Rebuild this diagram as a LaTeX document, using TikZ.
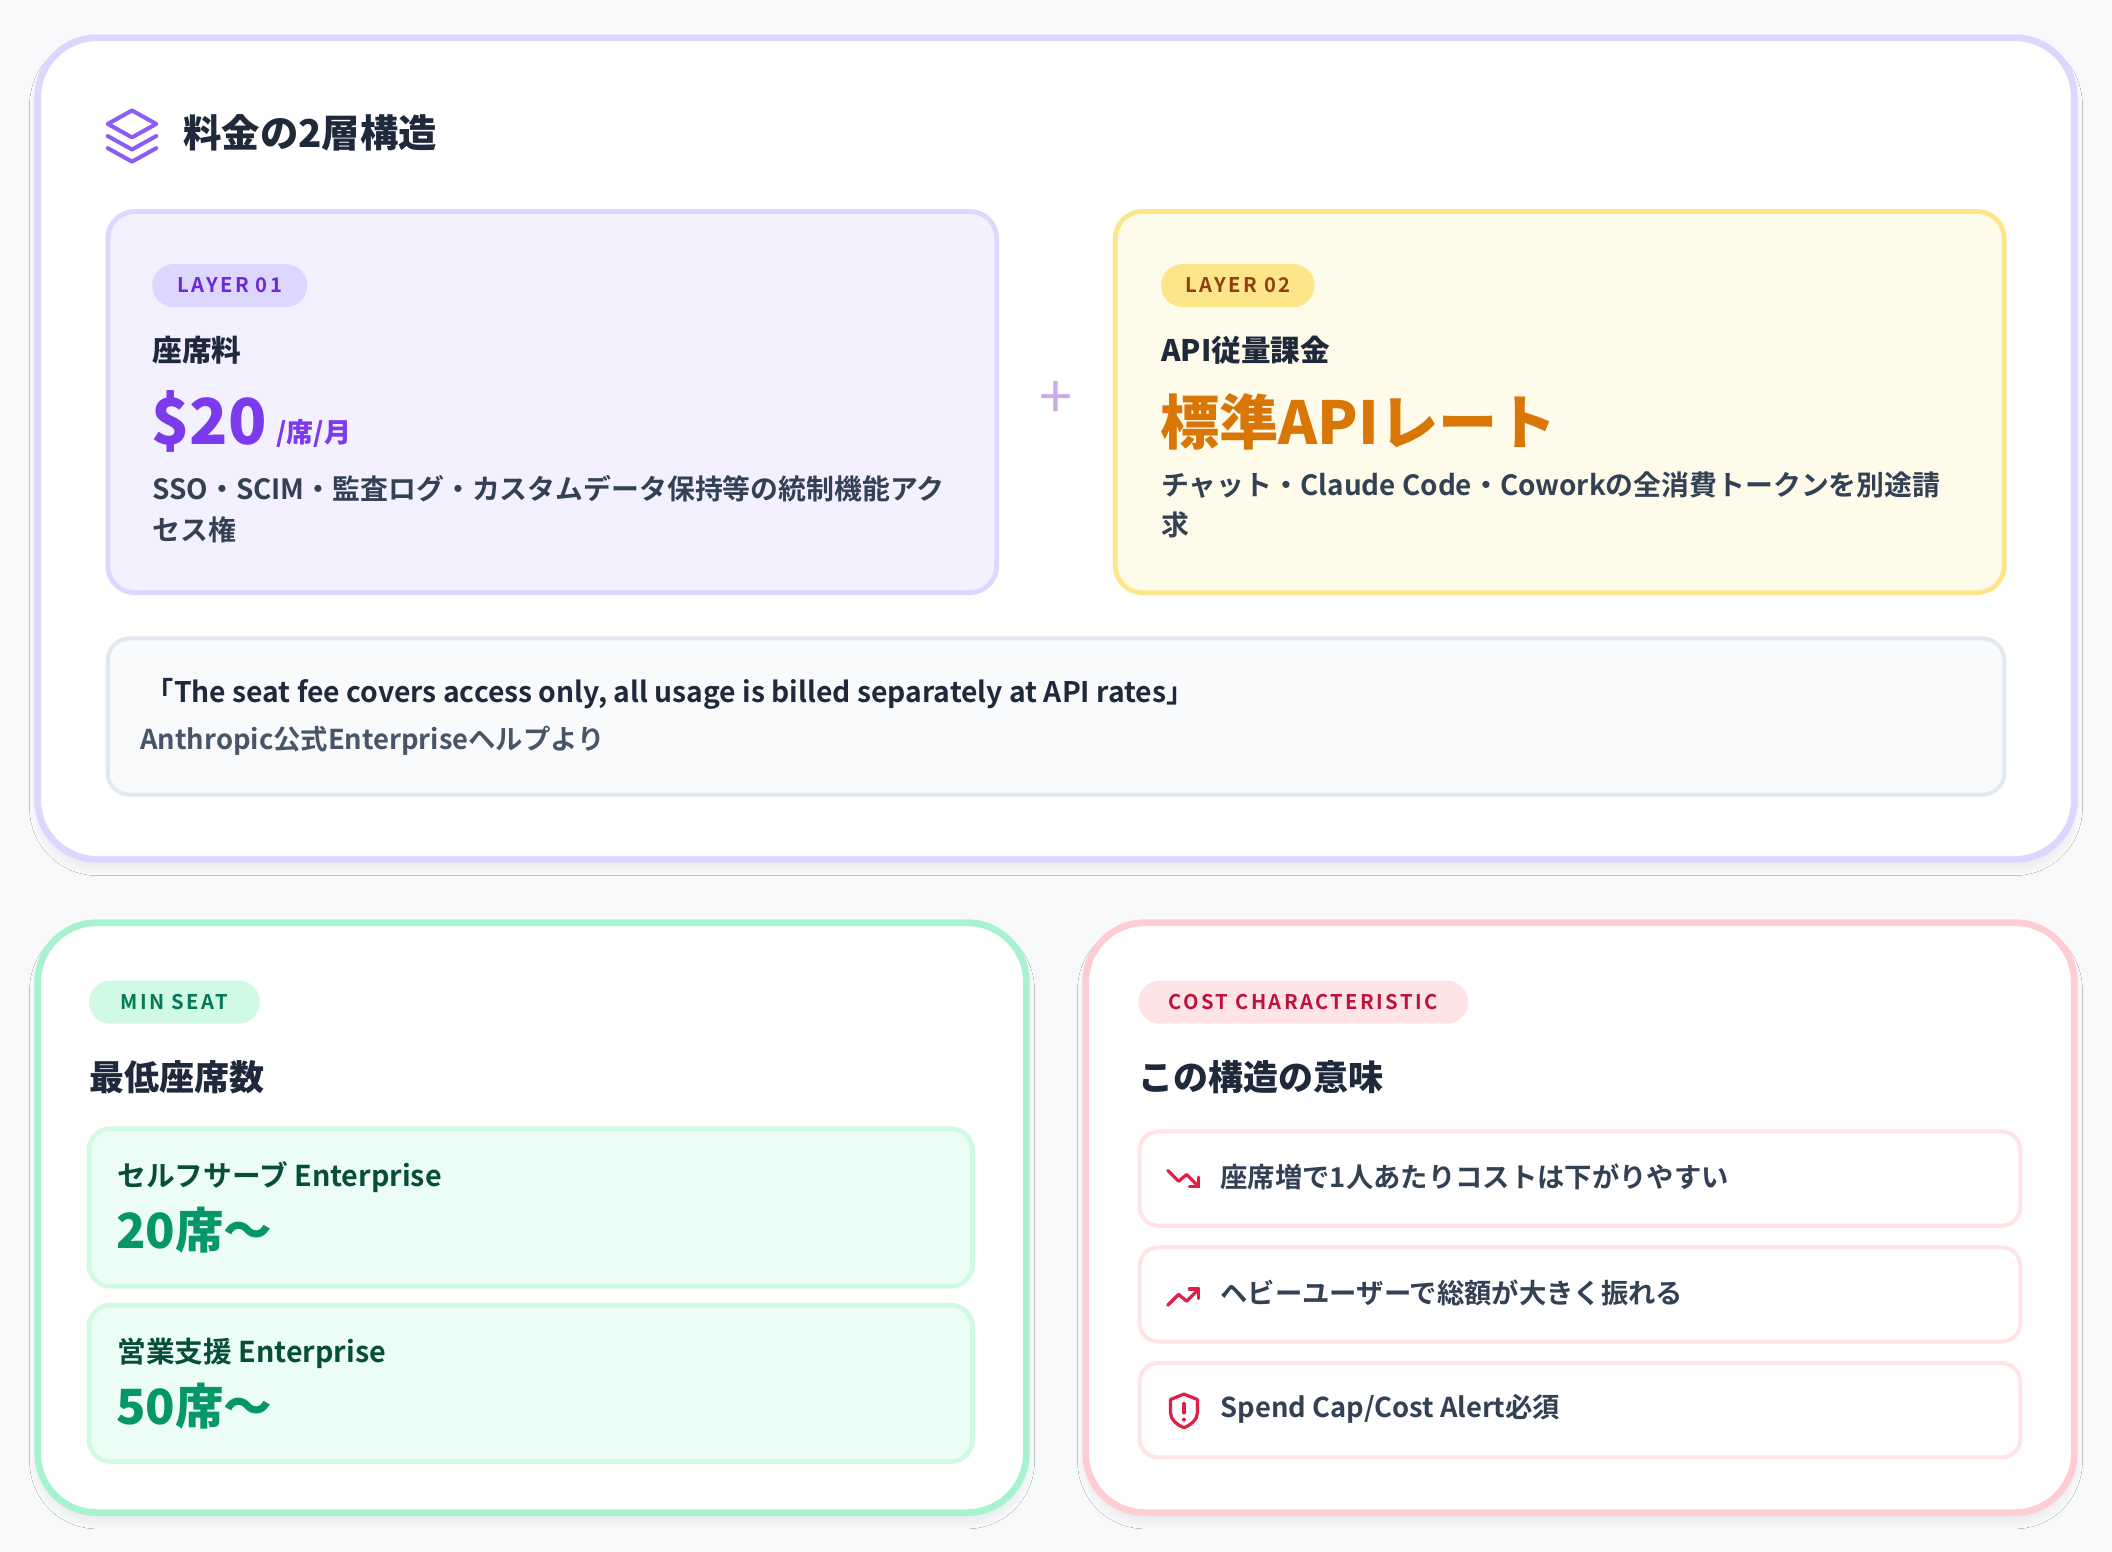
\documentclass[tikz,border=0pt]{standalone}
\usepackage{fontspec}
\setmainfont{Noto Sans CJK JP}[BoldFont={* Bold}]
\newfontfamily\heavy{Noto Sans CJK JP}[UprightFont={* Black}]
\usetikzlibrary{shadows.blur}
\definecolor{bg}{HTML}{F8F9FB}
\definecolor{lav}{HTML}{DDD6FE}
\definecolor{lavf}{HTML}{F3F0FF}
\definecolor{yel}{HTML}{FDE68A}
\definecolor{yelf}{HTML}{FEFBEA}
\definecolor{slb}{HTML}{E2E8F0}
\definecolor{slf}{HTML}{F8FAFC}
\definecolor{grn}{HTML}{A7F3D0}
\definecolor{grnf}{HTML}{ECFDF5}
\definecolor{grnb}{HTML}{D1FAE5}
\definecolor{pnk}{HTML}{FECDD3}
\definecolor{pnkb}{HTML}{FFE4E6}
\definecolor{ink}{HTML}{1E293B}
\definecolor{body}{HTML}{334155}
\definecolor{rose}{HTML}{E11D48}
\tikzset{x=1pt,y=-1pt,
 card/.style={rounded corners=44pt,line width=5pt,fill=white,blur shadow={shadow blur steps=10,shadow blur radius=6pt,shadow xshift=0pt,shadow yshift=-6pt,shadow opacity=7}},
 inbox/.style={rounded corners=20pt,line width=3.5pt},
 row/.style={rounded corners=14pt,line width=3pt,draw=pnkb,fill=white},
 pill/.style={rounded corners=16pt},
 lbl/.style={anchor=west,inner sep=0pt,font=\bfseries},
 badge/.style={anchor=center,inner sep=0pt,font=\bfseries\fontsize{15}{15}\selectfont\addfontfeatures{LetterSpace=12}},
}
\begin{document}
\begin{tikzpicture}
\fill[bg] (0,0) rectangle (1568,1152);
\useasboundingbox (0,0) rectangle (1568,1152);
% main card
\draw[card,draw=lav] (28,28) rectangle (1540,638);
\begin{scope}[line width=3pt,line cap=round,line join=round,draw={rgb,255:red,139;green,92;blue,246}]
\draw (98,82) -- (116,92) -- (98,102) -- (80,92) -- cycle;
\draw (80,101) -- (98,111) -- (116,101);
\draw (80,110) -- (98,120) -- (116,110);
\end{scope}
\node[lbl,text=ink,font=\heavy\fontsize{28.5}{28.5}\selectfont] (title) at (136,99) {料金の2層構造};
% layer 1
\draw[inbox,draw=lav,fill=lavf] (80,157) rectangle (740,440);
\fill[lav,pill] (113,196) rectangle (228,228);
\node[badge,text={rgb,255:red,109;green,40;blue,217}] (b1) at (170.5,212) {LAYER 01};
\node[lbl,text=ink,font=\heavy\fontsize{22}{22}\selectfont] (t1) at (113,260) {座席料};
\node[lbl,text={rgb,255:red,124;green,58;blue,237},font=\heavy\fontsize{47}{47}\selectfont] (p1) at (112,313) {\$20};
\node[lbl,text={rgb,255:red,124;green,58;blue,237},font=\heavy\fontsize{20}{20}\selectfont] (u1) at (205,322) {/席/月};
\node[lbl,text=body,font=\bfseries\fontsize{20.7}{20.7}\selectfont] (d1a) at (113,363) {SSO・SCIM・監査ログ・カスタムデータ保持等の統制機能アク};
\node[lbl,text=body,font=\bfseries\fontsize{20.7}{20.7}\selectfont] (d1b) at (113,393) {セス権};
% plus
\node[text=lav!80!violet,font=\fontsize{44}{44}\selectfont,inner sep=0pt] (plus) at (784,297) {+};
% layer 2
\draw[inbox,draw=yel,fill=yelf] (828,157) rectangle (1488,440);
\fill[yel,pill] (862,196) rectangle (976,228);
\node[badge,text={rgb,255:red,146;green,64;blue,14}] (b2) at (919,212) {LAYER 02};
\node[lbl,text=ink,font=\heavy\fontsize{22}{22}\selectfont] (t2) at (862,260) {API従量課金};
\node[lbl,text={rgb,255:red,217;green,119;blue,6},font=\heavy\fontsize{44}{44}\selectfont] (p2) at (861,313) {標準APIレート};
\node[lbl,text=body,font=\bfseries\fontsize{20.7}{20.7}\selectfont] (d2a) at (862,360) {チャット・Claude Code・Coworkの全消費トークンを別途請};
\node[lbl,text=body,font=\bfseries\fontsize{20.7}{20.7}\selectfont] (d2b) at (862,390) {求};
% quote
\draw[inbox,rounded corners=16pt,line width=3pt,draw=slb,fill=slf] (80,474) rectangle (1488,590);
\node[lbl,text=ink,font=\bfseries\fontsize{21}{21}\selectfont] (q) at (108,515) {「The seat fee covers access only, all usage is billed separately at API rates」};
\node[lbl,text={rgb,255:red,71;green,85;blue,105},font=\bfseries\fontsize{20.3}{20.3}\selectfont] (qs) at (104,550) {Anthropic公式Enterpriseヘルプより};
% bottom left
\draw[card,draw=grn] (28,685) rectangle (762,1123);
\fill[grnb,pill] (66,728) rectangle (193,760);
\node[badge,text={rgb,255:red,4;green,120;blue,87}] (b3) at (129.5,744) {MIN SEAT};
\node[lbl,text=ink,font=\heavy\fontsize{26}{26}\selectfont] (t3) at (66,800) {最低座席数};
\draw[inbox,rounded corners=16pt,draw=grnb,fill=grnf] (66,838) rectangle (722,955);
\node[lbl,text={rgb,255:red,6;green,78;blue,59},font=\bfseries\fontsize{21.3}{21.3}\selectfont] (s1) at (87,874) {セルフサーブ Enterprise};
\node[lbl,text={rgb,255:red,5;green,150;blue,105},font=\heavy\fontsize{36}{36}\selectfont] (n1) at (86,913) {20席〜};
\draw[inbox,rounded corners=16pt,draw=grnb,fill=grnf] (66,969) rectangle (722,1085);
\node[lbl,text={rgb,255:red,6;green,78;blue,59},font=\bfseries\fontsize{21.3}{21.3}\selectfont] (s2) at (87,1005) {営業支援 Enterprise};
\node[lbl,text={rgb,255:red,5;green,150;blue,105},font=\heavy\fontsize{36}{36}\selectfont] (n2) at (86,1044) {50席〜};
% bottom right
\draw[card,draw=pnk] (806,685) rectangle (1540,1123);
\fill[pnkb,pill] (845,728) rectangle (1090,760);
\node[badge,text={rgb,255:red,190;green,18;blue,60}] (b4) at (967.5,744) {COST CHARACTERISTIC};
\node[lbl,text=ink,font=\heavy\fontsize{26}{26}\selectfont] (t4) at (845,800) {この構造の意味};
\draw[row] (846,840) rectangle (1500,910);
\draw[row] (846,926) rectangle (1500,996);
\draw[row] (846,1012) rectangle (1500,1082);
\begin{scope}[draw=rose,line width=2.4pt,line cap=round,line join=round]
\draw (867,869) -- (875,877) -- (881,872) -- (890,881);
\draw (883,881) -- (890,881) -- (890,874);
\draw (867,969) -- (875,961) -- (881,966) -- (890,957);
\draw (883,957) -- (890,957) -- (890,964);
\draw (879,1035) -- (869,1039) -- (869,1049) .. controls (869,1054) and (874,1058) .. (879,1060) .. controls (884,1058) and (889,1054) .. (889,1049) -- (889,1039) -- cycle;
\draw (879,1042) -- (879,1049);
\fill[rose] (879,1054) circle (1.5pt);
\end{scope}
\node[lbl,text=body,font=\bfseries\fontsize{20.3}{20.3}\selectfont] (r1) at (906,874) {座席増で1人あたりコストは下がりやすい};
\node[lbl,text=body,font=\bfseries\fontsize{20.3}{20.3}\selectfont] (r2) at (906,960) {ヘビーユーザーで総額が大きく振れる};
\node[lbl,text=body,font=\bfseries\fontsize{20.3}{20.3}\selectfont] (r3) at (906,1046) {Spend Cap/Cost Alert必須};
\end{tikzpicture}
\end{document}
